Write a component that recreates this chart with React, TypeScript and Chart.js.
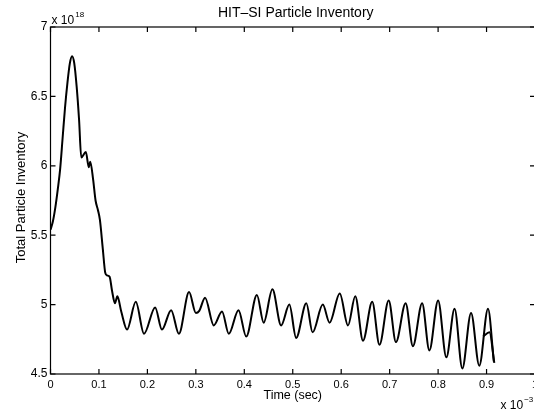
import React, { useEffect, useRef } from "react";
import { Chart, registerables } from "chart.js";

Chart.register(...registerables);

// Time in units of 1e-3 sec, inventory in units of 1e18
const mainTime = [
  0.0, 0.005, 0.01, 0.015, 0.02, 0.025, 0.03, 0.035, 0.04, 0.0445, 0.049, 0.054,
  0.059, 0.0635, 0.073, 0.079, 0.082, 0.088, 0.093, 0.098, 0.102, 0.108, 0.113,
  0.117, 0.122, 0.127, 0.133, 0.138, 0.146, 0.158, 0.176, 0.193, 0.216, 0.23,
  0.249, 0.265, 0.286, 0.3, 0.307, 0.319, 0.337, 0.354, 0.368, 0.388, 0.404,
  0.426, 0.44, 0.458, 0.476, 0.493, 0.507, 0.528, 0.541, 0.562, 0.576, 0.597,
  0.614, 0.629, 0.645, 0.664, 0.679, 0.698, 0.713, 0.733, 0.748, 0.767, 0.782,
  0.8, 0.817, 0.834, 0.85, 0.868, 0.885, 0.903, 0.915,
];
const mainInventory = [
  5.54, 5.6, 5.7, 5.83, 5.98, 6.2, 6.42, 6.6, 6.74, 6.79, 6.74, 6.57,
  6.33, 6.06, 6.1, 5.99, 6.03, 5.9, 5.75, 5.68, 5.61, 5.4, 5.23,
  5.21, 5.2, 5.1, 5.01, 5.06, 4.95, 4.82, 5.02, 4.79, 4.98, 4.82,
  4.96, 4.79, 5.09, 4.94, 4.955, 5.05, 4.85, 4.95, 4.79, 4.96, 4.77,
  5.07, 4.87, 5.11, 4.85, 5.0, 4.76, 5.01, 4.8, 5.0, 4.87, 5.08,
  4.85, 5.06, 4.74, 5.02, 4.71, 5.03, 4.73, 5.01, 4.7, 5.01, 4.67,
  5.03, 4.62, 4.97, 4.54, 4.94, 4.56, 4.97, 4.59,
];
const tailTime = [0.893, 0.906, 0.916];
const tailInventory = [4.77, 4.8, 4.58];

const xTicks = [0, 0.1, 0.2, 0.3, 0.4, 0.5, 0.6, 0.7, 0.8, 0.9, 1];
const yTicks = [4.5, 5, 5.5, 6, 6.5, 7];

const titleText = "HIT\u2013SI Particle Inventory";
const xTitle = "Time (sec)";
const yTitle = "Total Particle Inventory";
const xExp = "\u22123";
const yExp = "18";

const FONT = '"Liberation Sans", Arial, Helvetica, sans-serif';

const matlabPlugin = {
  id: "matlabAxes",
  afterDraw(chart: any) {
    const { ctx, chartArea } = chart;
    const { left, right, top, bottom } = chartArea;
    const xs = chart.scales.x;
    const ys = chart.scales.y;
    ctx.save();
    ctx.strokeStyle = "#000";
    ctx.lineWidth = 1.2;
    ctx.strokeRect(left, top, right - left, bottom - top);
    const tl = 5;
    ctx.beginPath();
    xTicks.forEach((v) => {
      const px = xs.getPixelForValue(v);
      ctx.moveTo(px, bottom);
      ctx.lineTo(px, bottom - tl);
      ctx.moveTo(px, top);
      ctx.lineTo(px, top + tl);
    });
    yTicks.forEach((v) => {
      const py = ys.getPixelForValue(v);
      ctx.moveTo(left, py);
      ctx.lineTo(left + tl, py);
      ctx.moveTo(right, py);
      ctx.lineTo(right - tl, py);
    });
    ctx.stroke();

    ctx.fillStyle = "#000";
    // title
    ctx.font = "14px " + FONT;
    ctx.textAlign = "center";
    ctx.textBaseline = "middle";
    ctx.fillText(titleText, (left + right) / 2 + 3, 13);
    // x title
    ctx.font = "12.5px " + FONT;
    ctx.fillText(xTitle, (left + right) / 2, 396);
    // y title
    ctx.save();
    ctx.translate(21, (top + bottom) / 2 - 3);
    ctx.rotate(-Math.PI / 2);
    ctx.font = "13px " + FONT;
    ctx.fillText(yTitle, 0, 0);
    ctx.restore();

    // exponents
    ctx.textAlign = "left";
    ctx.textBaseline = "alphabetic";
    ctx.font = "12px " + FONT;
    ctx.fillText("x 10", left + 1, 24);
    const w1 = ctx.measureText("x 10").width;
    ctx.font = "8px " + FONT;
    ctx.fillText(yExp, left + 1 + w1 + 1, 17);

    ctx.font = "12px " + FONT;
    ctx.fillText("x 10", 500.5, 409);
    const w2 = ctx.measureText("x 10").width;
    ctx.font = "8px " + FONT;
    ctx.fillText(xExp, 500.5 + w2 + 1, 402);
    ctx.restore();
  },
};

export default function App() {
  const ref = useRef<HTMLCanvasElement | null>(null);
  useEffect(() => {
    const canvas = ref.current;
    if (!canvas) return;
    const mainData = mainTime.map((t, i) => ({ x: t, y: mainInventory[i] }));
    const tailData = tailTime.map((t, i) => ({ x: t, y: tailInventory[i] }));
    const chart = new Chart(canvas, {
      type: "line",
      data: {
        datasets: [
          {
            data: mainData,
            borderColor: "#000",
            borderWidth: 2,
            pointRadius: 0,
            cubicInterpolationMode: "monotone",
            fill: false,
          },
          {
            data: tailData,
            borderColor: "#000",
            borderWidth: 2,
            pointRadius: 0,
            cubicInterpolationMode: "monotone",
            fill: false,
          },
        ],
      },
      options: {
        animation: false,
        responsive: false,
        devicePixelRatio: 1,
        layout: { padding: { top: 27, right: 10, left: 0, bottom: 0 } },
        plugins: {
          legend: { display: false },
          title: { display: false },
          tooltip: { enabled: false },
        },
        scales: {
          x: {
            type: "linear",
            min: 0,
            max: 1,
            grid: { display: false, drawTicks: false },
            border: { display: false },
            afterBuildTicks: (s: any) => {
              s.ticks = xTicks.map((v) => ({ value: v }));
            },
            afterFit: (s: any) => {
              s.height = 37;
            },
            ticks: {
              color: "#000",
              font: { family: FONT, size: 11 },
              padding: 4,
              maxRotation: 0,
              autoSkip: false,
              callback: (v: any) => String(Number(Number(v).toFixed(1))),
            },
          },
          y: {
            type: "linear",
            min: 4.5,
            max: 7,
            grid: { display: false, drawTicks: false },
            border: { display: false },
            afterBuildTicks: (s: any) => {
              s.ticks = yTicks.map((v) => ({ value: v }));
            },
            afterFit: (s: any) => {
              s.width = 50.5;
            },
            ticks: {
              color: "#000",
              font: { family: FONT, size: 12 },
              padding: 3,
              autoSkip: false,
              callback: (v: any) => String(Number(Number(v).toFixed(1))),
            },
          },
        },
      },
      plugins: [matlabPlugin],
    } as any);
    return () => chart.destroy();
  }, []);
  return (
    <div
      style={{
        position: "fixed",
        left: 0,
        top: 0,
        width: 534,
        height: 411,
        overflow: "hidden",
        background: "#fff",
      }}
    >
      <canvas ref={ref} width={545} height={411} style={{ display: "block" }} />
    </div>
  );
}
